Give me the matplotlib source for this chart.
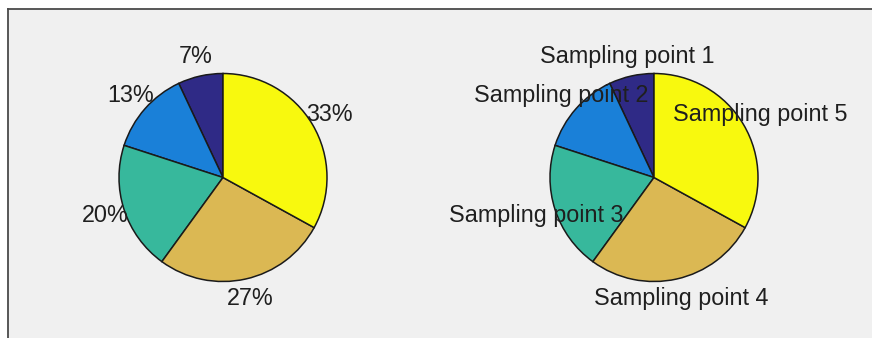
import matplotlib
matplotlib.use("Agg")
import matplotlib.pyplot as plt
from matplotlib.lines import Line2D
from matplotlib.patches import Rectangle

# Share of each sampling point (percent), drawn counter-clockwise from 12 o'clock
sites = ["Sampling point 1", "Sampling point 2", "Sampling point 3",
         "Sampling point 4", "Sampling point 5"]
shares = [7, 13, 20, 27, 33]
pct_labels = [f"{v}%" for v in shares]
slice_colors = ["#2f2a86", "#1a80d8", "#37b89c", "#dbb853", "#f8f90e"]

W, H, DPI = 872, 338, 100
fig = plt.figure(figsize=(W / DPI, H / DPI), dpi=DPI, facecolor="white")
fig.patch.set_linewidth(0)
plt.rcParams["font.family"] = ["Liberation Sans", "DejaVu Sans"]

# grey panel with a dark frame on its top and left edges
panel_left, panel_top = 8 / W, 1 - 9 / H
fig.add_artist(Rectangle((panel_left, -0.05), 1.1 - panel_left, panel_top + 0.05,
                         transform=fig.transFigure, facecolor="#f0f0f0",
                         edgecolor="none", linewidth=0, zorder=0))
fig.add_artist(Line2D([panel_left, 1.05], [panel_top, panel_top],
                      transform=fig.transFigure, color="#4a4a4a", lw=1.3))
fig.add_artist(Line2D([panel_left, panel_left], [-0.05, panel_top],
                      transform=fig.transFigure, color="#4a4a4a", lw=1.3))

radius_px = 104
half = 1.44
size_px = 2 * half * radius_px
cy = H - 177.5


def make_axes(cx):
    ax = fig.add_axes([(cx - size_px / 2) / W, (cy - size_px / 2) / H,
                       size_px / W, size_px / H])
    ax.set_xlim(-half, half)
    ax.set_ylim(-half, half)
    ax.set_aspect("equal")
    ax.axis("off")
    return ax


def draw(ax, labels):
    wedges, texts = ax.pie(shares, labels=labels, colors=slice_colors,
                           startangle=90, counterclock=True, radius=1.0,
                           labeldistance=1.19,
                           wedgeprops=dict(edgecolor="#1a1a1a", linewidth=1.1),
                           textprops=dict(fontsize=16.8, color="#1f1f1f"))
    for t in texts:
        t.set_horizontalalignment("center")
        t.set_verticalalignment("center")
        t.set_zorder(5)
    ax.set_xlim(-half, half)
    ax.set_ylim(-half, half)


draw(make_axes(223), pct_labels)
draw(make_axes(654), sites)

fig.savefig("out.png", dpi=DPI, facecolor="white")
